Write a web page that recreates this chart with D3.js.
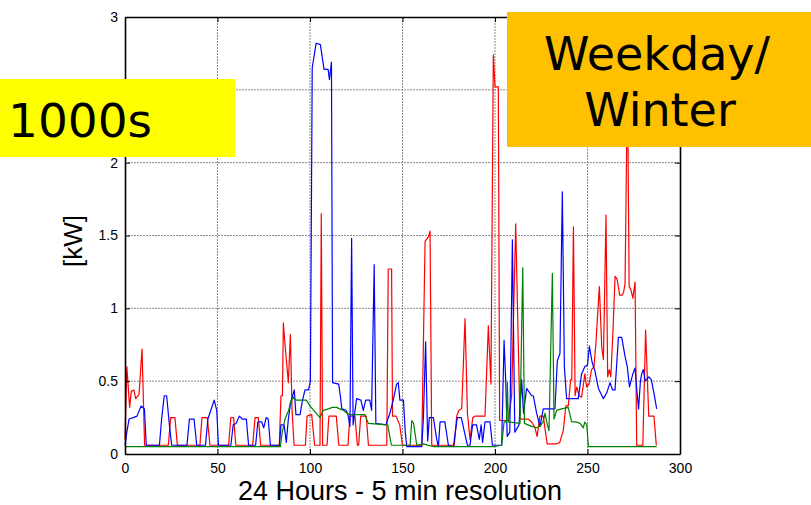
<!DOCTYPE html>
<html>
<head>
<meta charset="utf-8">
<script src="https://cdn.jsdelivr.net/npm/d3@7"></script>
<style>
    body { margin: 0; background: #fff; }
</style>
</head>
<body>
<div id="chart"></div>
<script>
const xTicks = [0, 50, 100, 150, 200, 250, 300];
const yTicks = [0, 0.5, 1, 1.5, 2, 2.5, 3];

// [5-min interval index, kW]
const redPoints = [
    [0, 0.1], [1, 0.6], [2.5, 0.32], [3.4, 0.43], [4.8, 0.44], [5.8, 0.38], [7.6, 0.41], [9.2, 0.72], [10.6, 0.06],
    [23.4, 0.06], [24.7, 0.25], [27, 0.25], [28.3, 0.06], [40.5, 0.06], [41.6, 0.25], [44.5, 0.25], [45.9, 0.06],
    [56, 0.06], [57.2, 0.25], [58.7, 0.25], [59.9, 0.06], [69, 0.06], [70.3, 0.25], [72.1, 0.25], [73.3, 0.06],
    [83.4, 0.06], [84.3, 0.4], [85.1, 0.4], [85.6, 0.9], [86.5, 0.75], [88.3, 0.49], [89.4, 0.82], [90.3, 0.3], [91.4, 0.06],
    [97.5, 0.06], [98.4, 0.26], [100.9, 0.27], [102.5, 0.06], [105.4, 0.06], [106.1, 1.65], [106.8, 0.06],
    [109.2, 0.06], [110.2, 0.26], [114.2, 0.26], [115.6, 0.06], [120.5, 0.06], [121.6, 0.26], [124.3, 0.26], [125.6, 0.06],
    [126.3, 0.06], [127.4, 0.26], [130.4, 0.26], [131.6, 0.06], [141.5, 0.06], [142.3, 1.27], [144.1, 1.27],
    [144.6, 0.26], [146.5, 0.26], [148.5, 0.2], [150, 0.06], [160.4, 0.06], [162.2, 1.46], [164, 1.49], [164.9, 1.53],
    [165.8, 0.06], [178, 0.06], [179.3, 0.26], [180.5, 0.3], [182, 0.31], [183.8, 0.93], [185.1, 0.28], [186.5, 0.1],
    [188, 0.25], [189.2, 0.26], [194.6, 0.26], [196.4, 0.88], [197.8, 0.48], [199.1, 2.74], [200, 2.52], [201.8, 2.52],
    [202.5, 0.23], [207.2, 0.23], [209, 0.4], [211.2, 1.58], [212.5, 0.8], [213.5, 0.24], [218, 0.24], [219.8, 0.22],
    [221.6, 0.18], [222.8, 0.12], [224.3, 0.26], [226.1, 0.26], [228.2, 0.07], [233.3, 0.07], [235, 0.08],
    [236.9, 0.16], [238.3, 0.33], [239.6, 0.33], [240.9, 0.51], [241.5, 0.51], [242.4, 1.56], [243.3, 0.4],
    [244.2, 0.46], [245.5, 0.4], [246.8, 0.39], [248.6, 0.55], [249.5, 0.46], [250.8, 0.48], [252.2, 0.58],
    [253.5, 0.6], [254.5, 0.75], [256.4, 1.15], [257.7, 0.73], [258.6, 0.65], [260, 1.64], [260.9, 0.53],
    [261.8, 0.58], [262.6, 0.53], [263.8, 0.85], [264.9, 1.22], [266, 1.2], [267.4, 1.09], [268.7, 1.09],
    [269.5, 1.11], [270.3, 1.17], [271.6, 2.6], [272.5, 1.15], [273.4, 1.13], [274.5, 1.07], [275.7, 1.18],
    [276.6, 0.06], [279.9, 0.06], [281.4, 0.85], [283.1, 0.26], [285.9, 0.26], [287.2, 0.06]
];

const bluePoints = [
    [0, 0.06], [1, 0.15], [2.2, 0.24], [4.5, 0.25], [6.5, 0.26], [8.7, 0.33], [10.5, 0.31], [11.5, 0.06],
    [18.6, 0.06], [19.8, 0.24], [21.2, 0.4], [22.5, 0.4], [24, 0.2], [25.2, 0.06], [33.5, 0.06], [34.8, 0.24],
    [37.3, 0.24], [38.8, 0.06], [43.5, 0.06], [44.8, 0.24], [46.4, 0.3], [48.2, 0.37], [49.6, 0.3], [50.5, 0.06],
    [57.2, 0.06], [58.5, 0.2], [60, 0.21], [61.8, 0.26], [63.4, 0.24], [65.6, 0.24], [66.8, 0.06], [70.6, 0.06],
    [71.8, 0.22], [73.9, 0.22], [75, 0.18], [76.3, 0.25], [77.4, 0.24], [78.6, 0.06], [83.5, 0.06], [84.3, 0.2],
    [86, 0.2], [87.2, 0.08], [88.3, 0.24], [89.5, 0.35], [91.5, 0.44], [92.4, 0.27], [94.6, 0.27], [95.8, 0.36],
    [97.3, 0.44], [99.2, 0.44], [100.2, 0.5], [101.2, 2.65], [103.3, 2.82], [105.6, 2.81], [107.6, 2.64],
    [109.8, 2.64], [110.5, 2.57], [111.6, 2.69], [112.2, 0.49], [115.5, 0.48], [116.3, 0.41], [117.2, 0.31],
    [119.5, 0.3], [120.5, 0.27], [121.6, 0.19], [122.5, 1.48], [123.3, 0.2], [125.2, 0.38], [127.5, 0.37],
    [128.8, 0.3], [130.1, 0.37], [132.3, 0.37], [133.3, 0.3], [134.7, 1.3], [135.6, 0.21], [141, 0.2],
    [143.2, 0.28], [145, 0.37], [146.8, 0.48], [147.7, 0.49], [148.6, 0.37], [150.5, 0.37], [151.5, 0.15],
    [152.3, 0.05], [160.4, 0.05], [161.3, 0.25], [162.5, 0.77], [163.6, 0.09], [164.5, 0.25], [166.7, 0.25],
    [168.5, 0.1], [169.4, 0.05], [170.3, 0.22], [172.9, 0.22], [174.8, 0.06], [177.5, 0.05], [179.6, 0.25],
    [181.8, 0.25], [183.5, 0.15], [185.1, 0.06], [186.5, 0.06], [187.9, 0.2], [190, 0.2], [191.5, 0.1],
    [192.5, 0.2], [193.3, 0.08], [194.6, 0.22], [197.3, 0.22], [198.6, 0.06], [203.6, 0.06], [204.9, 0.78],
    [205.8, 0.5], [206.6, 0.12], [208, 0.15], [209.4, 1.47], [210.7, 0.15], [213, 0.2], [214.4, 0.51],
    [215.4, 0.28], [217.1, 0.45], [219.8, 0.4], [220.7, 0.4], [222.5, 0.28], [224.3, 0.19], [226.1, 0.31],
    [232.4, 0.31], [233.7, 0.64], [235.1, 0.69], [236.4, 1.8], [237.5, 0.6], [238.7, 0.38], [245, 0.38],
    [246.8, 0.55], [248.6, 0.6], [250, 0.61], [251, 0.74], [252.5, 0.63], [254, 0.57], [255.9, 0.45],
    [258.6, 0.38], [260.4, 0.42], [262.2, 0.49], [263.5, 0.44], [264.9, 0.44], [266.7, 0.8], [268.5, 0.8],
    [270.3, 0.67], [271.5, 0.6], [272.7, 0.46], [274.5, 0.55], [275.7, 0.59], [276.6, 0.45], [277.6, 0.31],
    [278.6, 0.5], [279.3, 0.55], [280.2, 0.58], [281.2, 0.5], [283.1, 0.53], [284.5, 0.51], [285.9, 0.42],
    [287.4, 0.31]
];

const greenPoints = [
    [0, 0.05], [84, 0.05], [85, 0.15], [86.5, 0.24], [88.5, 0.3], [89.5, 0.36], [91.1, 0.39], [92.5, 0.37],
    [98, 0.37], [100, 0.33], [102, 0.3], [104, 0.27], [105.4, 0.25], [107.2, 0.3], [110, 0.31], [112, 0.32],
    [114.4, 0.32], [116, 0.31], [118, 0.3], [120, 0.28], [121.6, 0.27], [129.7, 0.27], [131.5, 0.21],
    [142, 0.2], [144, 0.06], [154.1, 0.06], [155, 0.23], [156, 0.21], [157.7, 0.06], [161.3, 0.07],
    [166.7, 0.05], [199, 0.05], [203.6, 0.06], [204.9, 0.22], [206.2, 0.22], [206.7, 0.49], [207.2, 0.22],
    [213.5, 0.21], [215, 1.28], [215.9, 0.21], [219.8, 0.19], [222.5, 0.18], [224.3, 0.19], [226, 0.22],
    [227, 0.28], [228.3, 0.2], [229.2, 0.16], [231, 1.24], [231.9, 0.24], [233.3, 0.3], [236, 0.31],
    [239.6, 0.32], [241.4, 0.22], [244, 0.22], [246, 0.21], [247.7, 0.18], [248.6, 0.22], [249.6, 0.2],
    [250.5, 0.05], [287.4, 0.05]
];

const width = 811;
const height = 505;
const plotLeft = 125, plotRight = 680, plotTop = 17, plotBottom = 454;

const svg = d3.select("#chart")
    .append("svg")
    .attr("width", width)
    .attr("height", height)
    .style("font-family", "'Liberation Sans', Arial, sans-serif");

const x = d3.scaleLinear().domain([0, 300]).range([plotLeft, plotRight]);
const y = d3.scaleLinear().domain([0, 3]).range([plotBottom, plotTop]);

// grid
svg.append("g")
    .selectAll("line")
    .data(xTicks.slice(1, -1))
    .enter()
    .append("line")
    .attr("x1", d => x(d)).attr("x2", d => x(d))
    .attr("y1", plotTop).attr("y2", plotBottom)
    .attr("stroke", "#8a8a8a")
    .attr("stroke-dasharray", "2,1");

svg.append("g")
    .selectAll("line")
    .data(yTicks.slice(1, -1))
    .enter()
    .append("line")
    .attr("x1", plotLeft).attr("x2", plotRight)
    .attr("y1", d => y(d)).attr("y2", d => y(d))
    .attr("stroke", "#8a8a8a")
    .attr("stroke-dasharray", "2,1");

const line = d3.line()
    .x(d => x(d[0]))
    .y(d => y(d[1]));

const series = [
    { points: redPoints, color: "#ff0000" },
    { points: bluePoints, color: "#0000ff" },
    { points: greenPoints, color: "#008000" }
];

svg.selectAll("path.series")
    .data(series)
    .enter()
    .append("path")
    .attr("class", "series")
    .attr("d", d => line(d.points))
    .attr("fill", "none")
    .attr("stroke", d => d.color)
    .attr("stroke-width", 1.2)
    .attr("stroke-linejoin", "round");

// axes, MATLAB style with inward ticks
function styleAxis(g) {
    g.attr("font-family", null);
    g.select(".domain").attr("stroke", "#000").attr("stroke-width", 1.6);
    g.selectAll(".tick line").attr("stroke", "#000");
    g.selectAll("text").attr("font-size", "14px").attr("fill", "#000");
}

svg.append("g")
    .attr("transform", `translate(0,${plotBottom})`)
    .call(d3.axisBottom(x).tickValues(xTicks).tickSizeInner(-5).tickSizeOuter(0).tickPadding(9))
    .call(styleAxis);

svg.append("g")
    .attr("transform", `translate(${plotLeft},0)`)
    .call(d3.axisLeft(y).tickValues(yTicks).tickFormat(d3.format("")).tickSizeInner(-5).tickSizeOuter(0).tickPadding(7))
    .call(styleAxis);

svg.append("g")
    .attr("transform", `translate(0,${plotTop})`)
    .call(d3.axisTop(x).tickValues(xTicks).tickFormat("").tickSizeInner(-5).tickSizeOuter(0))
    .call(styleAxis);

svg.append("g")
    .attr("transform", `translate(${plotRight},0)`)
    .call(d3.axisRight(y).tickValues(yTicks).tickFormat("").tickSizeInner(-5).tickSizeOuter(0))
    .call(styleAxis);

svg.append("text")
    .attr("x", 400)
    .attr("y", 500)
    .attr("text-anchor", "middle")
    .attr("font-size", "27px")
    .text("24 Hours - 5 min resolution");

svg.append("text")
    .attr("transform", "translate(82,241) rotate(-90)")
    .attr("text-anchor", "middle")
    .attr("font-size", "26px")
    .text("[kW]");

// overlay labels
svg.append("rect")
    .attr("x", 0).attr("y", 79)
    .attr("width", 235).attr("height", 78)
    .attr("fill", "#ffff00");

svg.append("text")
    .attr("x", 8).attr("y", 137)
    .attr("font-family", "'DejaVu Sans', Verdana, sans-serif")
    .attr("font-size", "47px")
    .text("1000s");

svg.append("rect")
    .attr("x", 507).attr("y", 12)
    .attr("width", 304).attr("height", 135)
    .attr("fill", "#ffc000");

svg.append("text")
    .attr("x", 657).attr("y", 70)
    .attr("text-anchor", "middle")
    .attr("font-family", "'DejaVu Sans', Verdana, sans-serif")
    .attr("font-size", "46px")
    .text("Weekday/");

svg.append("text")
    .attr("x", 660).attr("y", 126)
    .attr("text-anchor", "middle")
    .attr("font-family", "'DejaVu Sans', Verdana, sans-serif")
    .attr("font-size", "46px")
    .text("Winter");
</script>
</body>
</html>
